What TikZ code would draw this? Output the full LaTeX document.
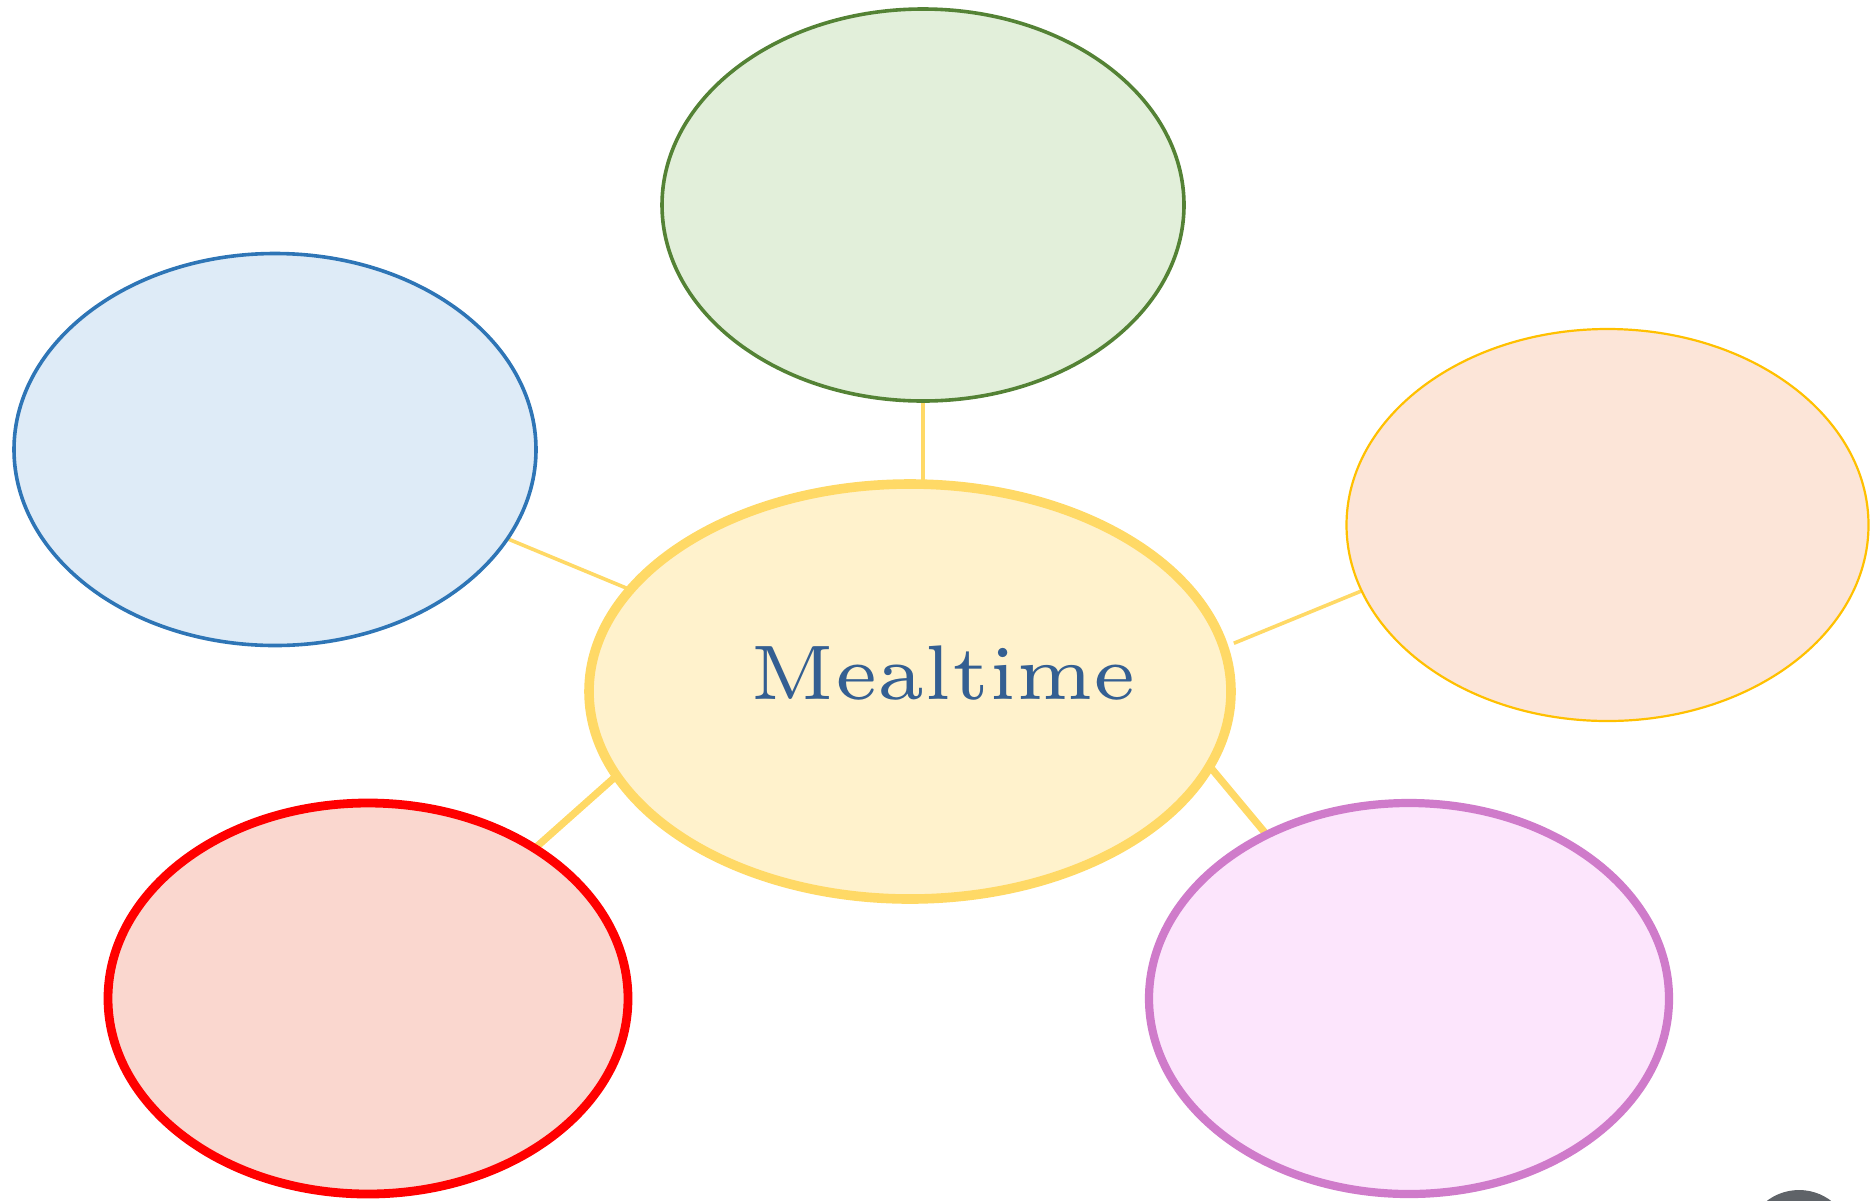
\documentclass[tikz,border=0pt]{standalone}
\usetikzlibrary{shapes.geometric,backgrounds}
\definecolor{cfill}{HTML}{FFF2CC}
\definecolor{cdraw}{HTML}{FFD966}
\definecolor{gfill}{HTML}{E2EFDA}
\definecolor{gdraw}{HTML}{548235}
\definecolor{bfill}{HTML}{DEEBF7}
\definecolor{bdraw}{HTML}{2E75B6}
\definecolor{ofill}{HTML}{FCE5D8}
\definecolor{odraw}{HTML}{FFC000}
\definecolor{rfill}{HTML}{FAD7CF}
\definecolor{rdraw}{HTML}{FF0000}
\definecolor{pfill}{HTML}{FCE5FC}
\definecolor{pdraw}{HTML}{CF7BCA}
\definecolor{textblue}{HTML}{345F92}
\definecolor{btngray}{HTML}{5F6368}
\begin{document}
\begin{tikzpicture}[x=0.5pt,y=-0.5pt,
  bubble/.style={ellipse,inner sep=0pt,outer sep=0pt,minimum width=261pt,minimum height=196pt},
  link/.style={draw=cdraw,line width=1.8pt},
  thicklink/.style={draw=cdraw,line width=3.6pt}]
\useasboundingbox (0,0) rectangle (1872,1200);
\clip (0,0) rectangle (1872,1200);
% center
\node[bubble,minimum width=321pt,minimum height=207.5pt,fill=cfill,draw=cdraw,line width=4.8pt] (center) at (910,691.5) {};
\node[text=textblue,anchor=base,inner sep=0pt] (title) at (943.5,699) {\scalebox{6.45}{\fontsize{6}{7}\selectfont Mealtime}};
% satellites
\node[bubble,fill=gfill,draw=gdraw,line width=1.8pt] (green) at (923,205) {};
\node[bubble,fill=bfill,draw=bdraw,line width=1.8pt] (blue) at (275,449.5) {};
\node[bubble,fill=ofill,draw=odraw,line width=1.1pt] (orange) at (1607.5,525) {};
\node[bubble,minimum width=260pt,minimum height=195.5pt,fill=rfill,draw=rdraw,line width=4.4pt] (red) at (368,998.5) {};
\node[bubble,minimum width=260pt,minimum height=195.5pt,fill=pfill,draw=pdraw,line width=4.1pt] (purple) at (1409,998.5) {};
% connectors
\begin{pgfonlayer}{background}
\draw[link] (green.south) -- (green.south |- center.north);
\draw[link] (blue.-21.9) -- (center.160);
\draw[link,shorten >=5.5pt] (orange.195.7) -- (center.8.2);
\draw[thicklink] (red.42.9) -- (center.196.2);
\draw[thicklink] (purple.131.1) -- (center.-14.2);
\end{pgfonlayer}
% corner button
\fill[btngray] (1799,1243) circle [radius=53];
\end{tikzpicture}
\end{document}
